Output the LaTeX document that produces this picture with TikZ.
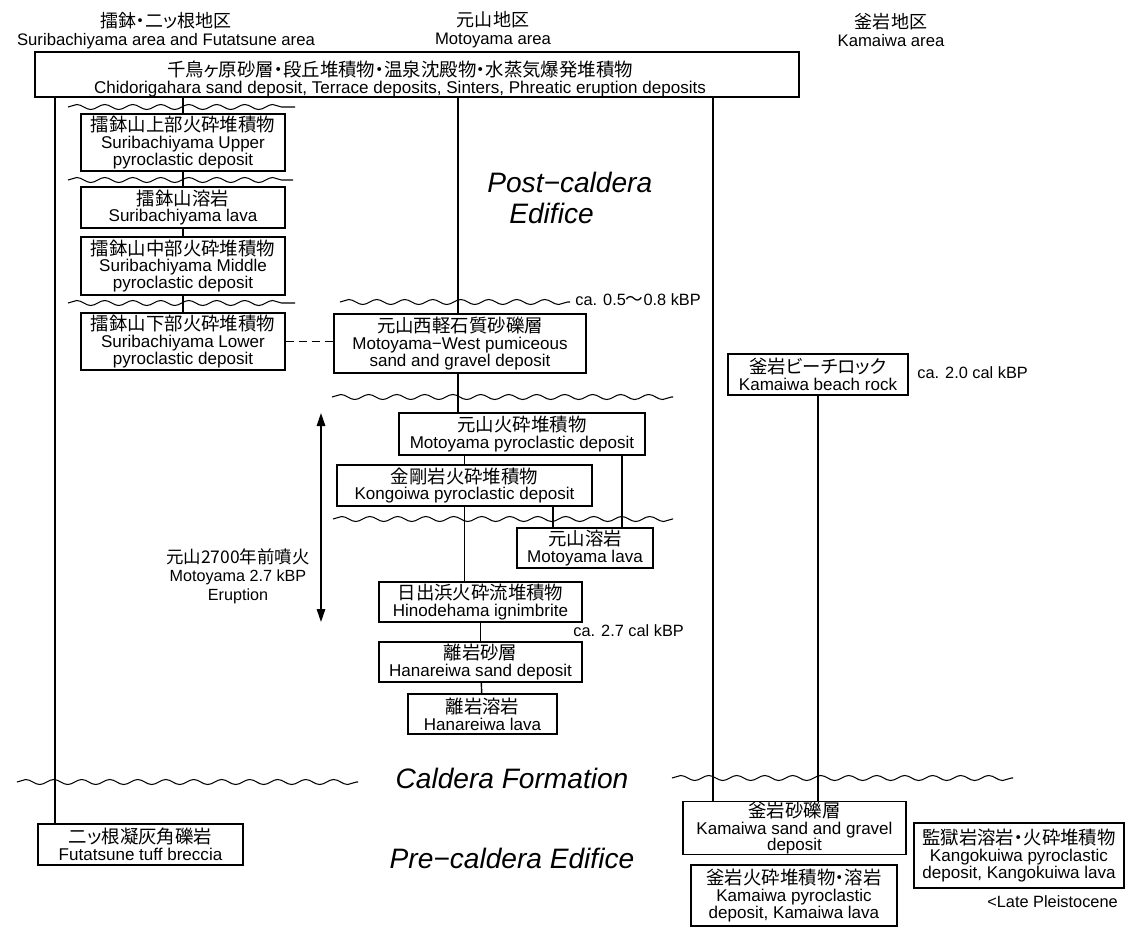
\documentclass[tikz,border=0pt]{standalone}
\usepackage{fontspec}
\setmainfont{Liberation Sans}
\newfontfamily\cjk[Scale=1.08,RawFeature=+palt]{Noto Sans CJK JP}
\newcommand{\jp}[1]{{\cjk #1}}
\usetikzlibrary{decorations.pathmorphing,arrows.meta}

\tikzstyle{estrato}= [rectangle,draw,black,thick,inner sep=0pt,align=center,font=\fontsize{9.7}{9.6}\selectfont]
\tikzstyle{zona}= [align=center,font=\fontsize{9.5}{10.2}\selectfont]
\tikzstyle{edad}= [anchor=west,inner sep=0pt,font=\fontsize{9.3}{9.6}\selectfont]
\tikzstyle{etapa}= [inner sep=0pt,font=\fontsize{16}{18}\selectfont\itshape]
\tikzstyle{discord}= [black,line width=0.6pt,decorate,decoration={snake,segment length=0.56cm,amplitude=0.05cm}]

\begin{document}
\begin{tikzpicture}[x=0.02cm,y=-0.02cm]

		\useasboundingbox (0,0) rectangle (1134,931);

		\node (zs) at (166,31) [zona] {\jp{擂鉢・二ッ根地区}\\Suribachiyama area and Futatsune area};
		\node (zm) at (493,30) [zona] {\jp{元山地区}\\Motoyama area};
		\node (zk) at (891,30) [zona] {\jp{釜岩地区}\\Kamaiwa area};

		\node (chido) at (417,74.5) [estrato,minimum width=15.28cm,minimum height=0.9cm] {};
		\node (chidotxt) at (400,79) [align=center,inner sep=0pt,font=\fontsize{9.7}{9.6}\selectfont] {\jp{千鳥ヶ原砂層・段丘堆積物・温泉沈殿物・水蒸気爆発堆積物}\\Chidorigahara sand deposit, Terrace deposits, Sinters, Phreatic eruption deposits};

		\node (sup) at (183,142.5) [estrato,minimum width=4.08cm,minimum height=1.14cm] {\jp{擂鉢山上部火砕堆積物}\\Suribachiyama Upper\\pyroclastic deposit};
		\node (slava) at (183,207.5) [estrato,minimum width=4.08cm,minimum height=0.82cm] {\jp{擂鉢山溶岩}\\Suribachiyama lava};
		\node (smid) at (183,266) [estrato,minimum width=4.08cm,minimum height=1.16cm] {\jp{擂鉢山中部火砕堆積物}\\Suribachiyama Middle\\pyroclastic deposit};
		\node (slow) at (183,341.5) [estrato,minimum width=4.08cm,minimum height=1.14cm] {\jp{擂鉢山下部火砕堆積物}\\Suribachiyama Lower\\pyroclastic deposit};

		\node (mw) at (460,343.5) [estrato,minimum width=5.04cm,minimum height=1.18cm] {\jp{元山西軽石質砂礫層}\\Motoyama−West pumiceous\\sand and gravel deposit};
		\node (mp) at (522,434) [estrato,minimum width=4.92cm,minimum height=0.84cm] {\jp{元山火砕堆積物}\\Motoyama pyroclastic deposit};
		\node (kong) at (464.5,485.5) [estrato,minimum width=5.10cm,minimum height=0.82cm] {\jp{金剛岩火砕堆積物}\\Kongoiwa pyroclastic deposit};
		\node (ml) at (585,548) [estrato,minimum width=2.72cm,minimum height=0.80cm] {\jp{元山溶岩}\\Motoyama lava};
		\node (hino) at (480.5,602) [estrato,minimum width=4.06cm,minimum height=0.80cm] {\jp{日出浜火砕流堆積物}\\Hinodehama ignimbrite};
		\node (hsand) at (480.5,662) [estrato,minimum width=4.06cm,minimum height=0.80cm] {\jp{離岩砂層}\\Hanareiwa sand deposit};
		\node (hlava) at (482.5,714) [estrato,minimum width=2.98cm,minimum height=0.80cm] {\jp{離岩溶岩}\\Hanareiwa lava};

		\node (beach) at (818,374.5) [estrato,minimum width=3.60cm,minimum height=0.82cm] {\jp{釜岩ビーチロック}\\Kamaiwa beach rock};
		\node (ksand) at (794.5,828) [estrato,minimum width=4.46cm,minimum height=1.04cm] {\jp{釜岩砂礫層}\\Kamaiwa sand and gravel\\deposit};
		\node (kpyro) at (794,895.5) [estrato,minimum width=4.12cm,minimum height=1.22cm] {\jp{釜岩火砕堆積物・溶岩}\\Kamaiwa pyroclastic\\deposit, Kamaiwa lava};
		\node (kango) at (1019,855.5) [estrato,minimum width=4.20cm,minimum height=1.30cm] {\jp{監獄岩溶岩・火砕堆積物}\\Kangokuiwa pyroclastic\\deposit, Kangokuiwa lava};
		\node (futa) at (140.5,844.5) [estrato,minimum width=4.10cm,minimum height=0.82cm] {\jp{二ッ根凝灰角礫岩}\\Futatsune tuff breccia};

		\node (a05) at (575,300) [edad] {ca. 0.5\jp{〜}0.8 kBP};
		\node (a20) at (917,373) [edad] {ca. 2.0 cal kBP};
		\node (a27) at (573,631) [edad] {ca. 2.7 cal kBP};
		\node (late) at (987,902) [edad] {<Late Pleistocene};
		\node (erup) at (238,576) [align=center,font=\fontsize{9.2}{10.5}\selectfont] {\jp{元山2700年前噴火}\\Motoyama 2.7 kBP\\Eruption};

		\node (post) at (487,182) [etapa,anchor=west] {Post−caldera};
		\node (edif) at (509,213) [etapa,anchor=west] {Edifice};
		\node (cald) at (512,778) [etapa] {Caldera Formation};
		\node (pre) at (512,858) [etapa] {Pre−caldera Edifice};

		\coordinate (xl) at (55,0);
		\coordinate (xm) at (458,0);
		\coordinate (xr) at (713,0);
		\coordinate (xa) at (622,0);
		\coordinate (xb) at (553,0);
		\coordinate (arrtop) at (321,413);
		\coordinate (arrbot) at (321,622);

		\draw[discord] (68,107) -- (295,107);
		\draw[discord] (68,180) -- (293,180);
		\draw[discord] (68,303) -- (295,303);
		\draw[discord] (340,302) -- (570,302);
		\draw[discord] (332,397) -- (673,397);
		\draw[discord] (333,519) -- (673,519);
		\draw[discord] (17,782) -- (358,782);
		\draw[discord] (672,778) -- (1013,778);

		\path[black,thick] (chido.south -| xl) edge[] node {} (futa.north -| xl);
		\path[black,thick] (chido.south -| xm) edge[] node {} (mw.north -| xm);
		\path[black,thick] (chido.south -| xr) edge[] node {} (ksand.north -| xr);
		\path[black,thick] (chido.south -| sup.north) edge[] node {} (sup);
		\path[black,thick] (sup) edge[] node {} (slava);
		\path[black,thick] (slava) edge[] node {} (smid);
		\path[black,thick] (smid) edge[] node {} (slow);
		\path[black,thick,dash pattern=on 0.16cm off 0.1cm] (slow.east) edge[] node {} (mw.west |- slow.east);
		\path[black,thick] (mw.south -| xm) edge[] node {} (mp.north -| xm);
		\path[black,thick] (mp.south -| kong.north) edge[] node {} (kong.north);
		\path[black,thick] (mp.south -| xa) edge[] node {} (ml.north -| xa);
		\path[black,thick] (kong.south) edge[] node {} (hino.north -| kong.south);
		\path[black,thick] (kong.south -| xb) edge[] node {} (ml.north -| xb);
		\path[black,thick] (hino) edge[] node {} (hsand);
		\path[black,thick] (hsand) edge[] node {} (hlava);
		\path[black,thick] (beach) edge[] node {} (ksand.north -| beach.south);
		\draw[black,thick,{Triangle[length=0.26cm,width=0.17cm]}-{Triangle[length=0.26cm,width=0.17cm]}] (arrtop) -- (arrbot);

	\end{tikzpicture}
\end{document}
